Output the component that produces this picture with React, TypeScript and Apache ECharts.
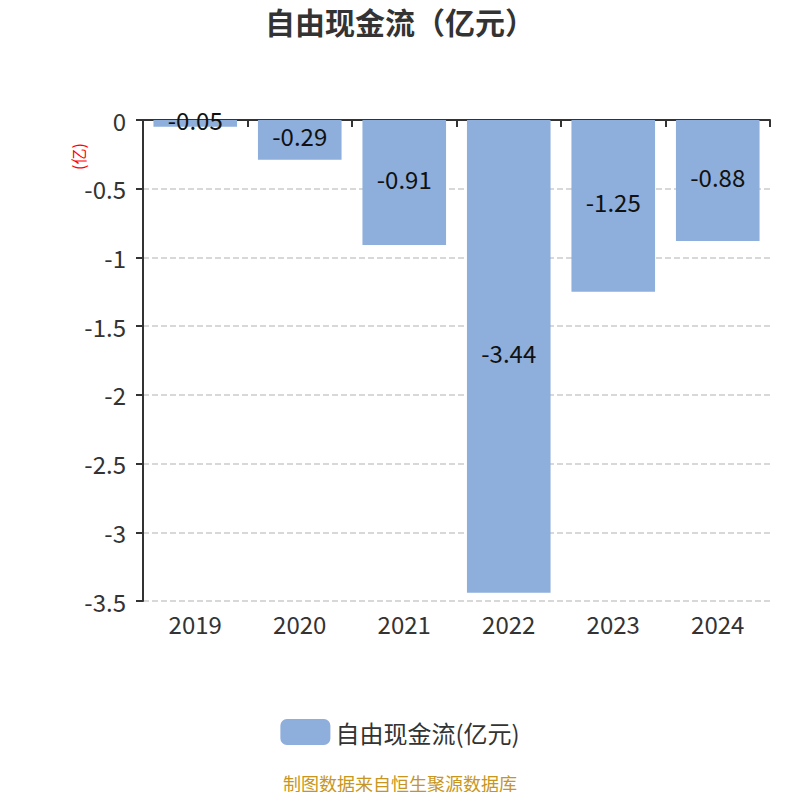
import React, { useEffect, useRef } from 'react';
import * as echarts from 'echarts';

const categories = ['2019', '2020', '2021', '2022', '2023', '2024'];
const values = [-0.05, -0.29, -0.91, -3.44, -1.25, -0.88];
const seriesName = '自由现金流(亿元)';

const FONT = '"Noto Sans CJK SC", "Noto Sans", sans-serif';

const App: React.FC = () => {
    const chartRef = useRef<HTMLDivElement>(null);

    useEffect(() => {
        if (!chartRef.current) return;
        const chart = echarts.init(chartRef.current, undefined, { renderer: 'svg' });

        const option: echarts.EChartsOption = {
            animation: false,
            textStyle: { fontFamily: FONT },
            title: {
                text: '自由现金流（亿元）',
                left: 'center',
                top: 1,
                textStyle: { fontSize: 30, fontWeight: 'bold', color: '#333', fontFamily: FONT },
            },
            grid: { left: 143, right: 30, top: 120, bottom: 199 },
            legend: {
                bottom: 50,
                left: 'center',
                icon: 'roundRect',
                itemWidth: 50,
                itemHeight: 26,
                itemGap: 10,
                textStyle: { fontSize: 24, color: '#333', fontFamily: FONT },
                data: [seriesName],
            },
            xAxis: [
                {
                    type: 'category',
                    data: categories,
                    position: 'bottom',
                    axisLine: { onZero: true, lineStyle: { color: '#333', width: 2 } },
                    axisTick: { show: true, length: 7, lineStyle: { color: '#333', width: 2 } },
                    axisLabel: { show: false },
                },
                {
                    type: 'category',
                    data: categories,
                    position: 'bottom',
                    axisLine: { show: false, onZero: false },
                    axisTick: { show: false },
                    axisLabel: { fontSize: 24, color: '#333', margin: 10, fontFamily: FONT },
                },
            ],
            yAxis: {
                type: 'value',
                min: -3.5,
                max: 0,
                interval: 0.5,
                axisLine: { show: true, lineStyle: { color: '#333', width: 2 } },
                axisTick: { show: true, length: 7, lineStyle: { color: '#333', width: 2 } },
                axisLabel: { fontSize: 24, color: '#333', margin: 17, fontFamily: FONT },
                splitLine: { show: true, lineStyle: { type: 'dashed', color: '#ccc', width: 1.5 } },
            },
            graphic: [
                {
                    type: 'text',
                    x: 70,
                    y: 170,
                    rotation: Math.PI / 2,
                    style: { text: '(亿)', fill: '#ff0000', fontSize: 16, fontFamily: FONT },
                },
                {
                    type: 'text',
                    left: 'center',
                    top: 774,
                    style: { text: '制图数据来自恒生聚源数据库', fill: '#c8961e', fontSize: 18, fontFamily: FONT },
                },
            ],
            series: [
                {
                    name: seriesName,
                    type: 'bar',
                    xAxisIndex: 0,
                    data: values,
                    barWidth: '80%',
                    itemStyle: { color: '#8eaedb' },
                    label: {
                        show: true,
                        position: 'inside',
                        offset: [0, -4],
                        fontSize: 24,
                        color: '#111',
                        fontFamily: FONT,
                    },
                },
            ],
        };

        chart.setOption(option);
        const handleResize = () => chart.resize();
        window.addEventListener('resize', handleResize);
        return () => {
            window.removeEventListener('resize', handleResize);
            chart.dispose();
        };
    }, []);

    return <div ref={chartRef} style={{ width: 800, height: 800, margin: -8 }} />;
};

export default App;
